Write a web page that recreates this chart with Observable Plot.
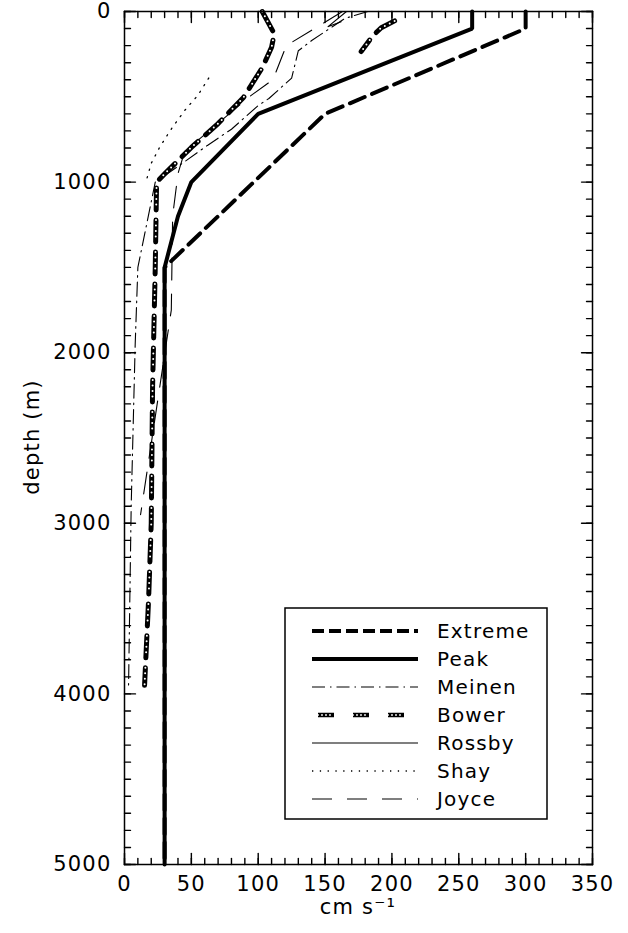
<!DOCTYPE html>
<html><head><meta charset="utf-8">
<script src="https://cdn.jsdelivr.net/npm/d3@7"></script>
<script src="https://cdn.jsdelivr.net/npm/@observablehq/plot@0.6"></script>
<style>body{margin:0;background:#fff}#chart{width:628px;height:933px}</style>
</head><body><div id="chart"></div>
<script>
// [speed cm/s, depth m]
const extreme  = [[300,0],[300,100],[150,600],[30,1500],[30,5000]];
const peak     = [[260,0],[260,100],[100,600],[50,1000],[40,1200],[30,1500],[30,5000]];
const meinen   = [[182,0],[165,40],[140,170],[130,230],[125,390],[108,510],[100,551],[80,690],[62,785],[45,880],[23,1000],[10,1500],[8,1950],[5,2900],[3,3970]];
const bower    = [[103,0],[112,130],[110,210],[103,330],[89,504],[70,657],[50,797],[31,944],[24,1000],[23,1500],[21,2200],[20,3000],[18,3450],[15,3950]];
const bowerTop = [[202,55],[192,95],[186,140],[177,235]];
const rossby   = [[166,0],[152,90],[162,60]];
const shay     = [[63,390],[55,490],[45,580],[34,700],[26,800],[20,890],[16,1000]];
const joyce    = [[163,0],[121,200],[111,400],[95,490],[45,820],[40,950],[36,1200],[35,1750],[12,2950]];

const xMajor = [0,50,100,150,200,250,300,350];
const yMajor = [0,1000,2000,3000,4000,5000];
const xMinor = d3.range(0,351,10);
const yMinor = d3.range(0,5001,100);
const legendNames = ["Extreme","Peak","Meinen","Bower","Rossby","Shay","Joyce"];
const xTitle = "cm s\u207B\u00B9";
const yTitle = "depth (m)";

const rows = a => a.map(([v,d]) => ({v, d}));
const line = (a, o) => Plot.line(rows(a), {x:"v", y:"d", stroke:"black", strokeLinejoin:"miter", ...o});

const FONT = "DejaVu Sans";
const tickShape = {draw(c, l) { c.moveTo(0, 0); c.lineTo(0, -l); }};
const tk = {anchor:"start", shape: tickShape, stroke:"black", strokeWidth:1.4};
const tickMarks = [];
for (const [vals, len] of [[xMinor,6],[xMajor,11]]) {
  tickMarks.push(Plot.vector(vals, {...tk, x: d => d, frameAnchor:"bottom", rotate:0, length:len}));
  tickMarks.push(Plot.vector(vals, {...tk, x: d => d, frameAnchor:"top", rotate:180, length:len}));
}
for (const [vals, len] of [[yMinor,6],[yMajor,11]]) {
  tickMarks.push(Plot.vector(vals, {...tk, y: d => d, frameAnchor:"left", rotate:90, length:len}));
  tickMarks.push(Plot.vector(vals, {...tk, y: d => d, frameAnchor:"right", rotate:270, length:len}));
}

const plot = Plot.plot({
  width: 628, height: 933,
  marginLeft: 124, marginRight: 36, marginTop: 11, marginBottom: 69,
  style: {fontFamily: FONT, fontSize: "21px", color: "#000", background: "#fff", letterSpacing: "1.2px"},
  x: {domain: [0,350]},
  y: {domain: [0,5000], reverse: true},
  marks: [
    line(shay,    {strokeWidth:1.3, strokeDasharray:"1.3,6.5"}),
    line(joyce,   {strokeWidth:1.1, strokeDasharray:"22,14"}),
    line(rossby,  {strokeWidth:1.1}),
    line(meinen,  {strokeWidth:1.1, strokeDasharray:"14,5,1.5,5"}),
    line(bower,   {strokeWidth:5, strokeDasharray:"22,10"}),
    line(bower,   {stroke:"white", strokeWidth:2, strokeLinecap:"round", strokeDasharray:"0,5.5,0,5.5,0,5.5,0,15.5"}),
    line(bowerTop,{strokeWidth:5, strokeDasharray:"22,10"}),
    line(bowerTop,{stroke:"white", strokeWidth:2, strokeLinecap:"round", strokeDasharray:"0,5.5,0,5.5,0,5.5,0,15.5"}),
    line(extreme, {strokeWidth:4, strokeDasharray:"16,8"}),
    line(peak,    {strokeWidth:4}),
    ...tickMarks,
    Plot.axisX(xMajor, {anchor:"bottom", tickSize:0, tickPadding:12, fontSize:21, label:null}),
    Plot.axisY(yMajor, {anchor:"left", tickSize:0, tickPadding:13, fontSize:21, tickFormat: d => String(d), label:null}),
    Plot.frame({strokeWidth:1.5})
  ]
});
document.getElementById("chart").appendChild(plot);

const svg = d3.select(plot);
// axis titles
svg.append("text").attr("x", 358).attr("y", 914).attr("text-anchor","middle")
  .attr("font-family", FONT).attr("font-size", 21).text(xTitle);
svg.append("text").attr("transform","translate(39,437) rotate(-90)").attr("text-anchor","middle")
  .attr("font-family", FONT).attr("font-size", 21).text(yTitle);

// legend box inside the plotting area (IDL style)
const lg = svg.append("g").attr("font-family", FONT).attr("font-size", 20).attr("text-anchor","start");
lg.append("rect").attr("x",285).attr("y",608).attr("width",262).attr("height",211)
  .attr("fill","white").attr("stroke","black").attr("stroke-width",1.5);
const lstyle = {
  Extreme:[{w:4, dash:"12,5"}],
  Peak:[{w:4}],
  Meinen:[{w:1.1, dash:"13,5,1.5,5"}],
  Bower:[{w:4.5, dash:"16,19", x1:318, x2:410},{w:1.8, dash:"0,4,0,4,0,4,0,23", color:"white", cap:"round", x1:318, x2:410}],
  Rossby:[{w:1.1}],
  Shay:[{w:1.3, dash:"1.3,6.5"}],
  Joyce:[{w:1.1, dash:"20,15"}]
};
legendNames.forEach((n,i) => {
  const y = 631 + i*28;
  for (const s of lstyle[n]) {
    lg.append("line").attr("x1", s.x1 ?? 312).attr("x2", s.x2 ?? 418).attr("y1", y).attr("y2", y)
      .attr("stroke", s.color || "black").attr("stroke-width", s.w)
      .attr("stroke-dasharray", s.dash || null).attr("stroke-linecap", s.cap || "butt");
  }
  lg.append("text").attr("x", 437).attr("y", y).attr("dy","0.36em").text(n);
});
</script>
</body></html>
